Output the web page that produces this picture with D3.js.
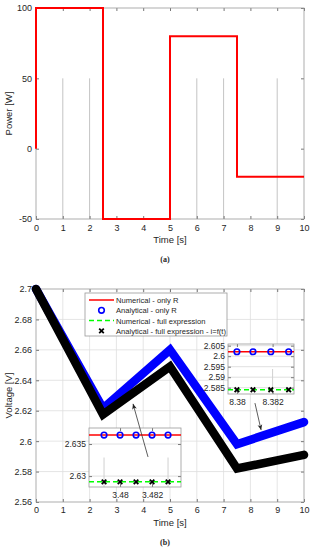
<!DOCTYPE html>
<html>
<head>
<meta charset="utf-8">
<script src="https://cdn.jsdelivr.net/npm/d3@7"></script>
<style>
  body { margin: 0; background: #fff; }
  text { font-family: "Liberation Sans", Arial, sans-serif; fill: #262626; }
  .cap { font-family: "Liberation Serif", "DejaVu Serif", serif; font-weight: bold; }
</style>
</head>
<body>
<script>
// ---- data (a) power profile ----
const stepTimes = [0, 2.5, 5, 7.5, 10];
const powerLevels = [100, -50, 80, -20];
const powerStems = [1, 2, 6, 7, 9];
const timeTicks = [0, 1, 2, 3, 4, 5, 6, 7, 8, 9, 10];
const powerTicks = [-50, 0, 50, 100];

// ---- data (b) voltage ----
const voltTimes = [0, 2.5, 5, 7.5, 10];
const voltOnlyR = [2.700, 2.6215, 2.660, 2.598, 2.6125];
const voltFull = [2.700, 2.6175, 2.649, 2.582, 2.591];
const voltTicks = [2.56, 2.58, 2.6, 2.62, 2.64, 2.66, 2.68, 2.7];
const legendLabels = [
  "Numerical - only R",
  "Analytical - only R",
  "Numerical - full expression",
  "Analytical - full expression - i=f(t)"
];

// zoom insets
const zoomATimes = [3.479, 3.480, 3.481, 3.482, 3.483];
const zoomAOnlyR = 2.6364;
const zoomAFull = 2.6291;
const zoomAXTicks = [3.48, 3.482];
const zoomAYTicks = [2.63, 2.635];

const zoomBTimes = [8.3800, 8.3809, 8.3819, 8.3829];
const zoomBOnlyR = 2.6021;
const zoomBFull = 2.5840;
const zoomBXTicks = [8.38, 8.382];
const zoomBYTicks = [2.585, 2.59, 2.595, 2.6, 2.605];

const W = 315, H = 550;
const svg = d3.select("body").append("svg")
  .attr("width", W).attr("height", H);

const fmt = d => String(+d.toFixed(3));
const frameColor = "#9a9a9a";

function axes(g, x, y, xt, yt, xPad, yPad, fs) {
  g.append("g")
    .attr("transform", "translate(0," + y.range()[0] + ")")
    .call(d3.axisBottom(x).tickValues(xt).tickFormat(fmt).tickSizeInner(-3).tickSizeOuter(0).tickPadding(xPad))
    .call(a => a.select(".domain").remove());
  g.append("g")
    .attr("transform", "translate(0," + y.range()[1] + ")")
    .call(d3.axisTop(x).tickValues(xt).tickFormat("").tickSizeInner(-3).tickSizeOuter(0))
    .call(a => a.select(".domain").remove());
  g.append("g")
    .attr("transform", "translate(" + x.range()[0] + ",0)")
    .call(d3.axisLeft(y).tickValues(yt).tickFormat(fmt).tickSizeInner(-3).tickSizeOuter(0).tickPadding(yPad))
    .call(a => a.select(".domain").remove());
  g.append("g")
    .attr("transform", "translate(" + x.range()[1] + ",0)")
    .call(d3.axisRight(y).tickValues(yt).tickFormat("").tickSizeInner(-3).tickSizeOuter(0))
    .call(a => a.select(".domain").remove());
  g.selectAll(".tick line").attr("stroke", "#777");
  g.selectAll(".tick text").attr("font-size", fs).attr("fill", "#262626")
    .attr("font-family", "Liberation Sans, Arial, sans-serif");
  g.append("rect")
    .attr("x", x.range()[0]).attr("y", y.range()[1])
    .attr("width", x.range()[1] - x.range()[0])
    .attr("height", y.range()[0] - y.range()[1])
    .attr("fill", "none").attr("stroke", frameColor).attr("stroke-width", 0.8);
}

// ================= (a) =================
const xa = d3.scaleLinear().domain([0, 10]).range([36, 304]);
const ya = d3.scaleLinear().domain([-50, 100]).range([219, 8]);
const ga = svg.append("g");

ga.selectAll("line.stem").data(powerStems).join("line")
  .attr("x1", d => xa(d)).attr("x2", d => xa(d))
  .attr("y1", ya(-50)).attr("y2", ya(50))
  .attr("stroke", "#c4c4c4").attr("stroke-width", 1);

axes(ga, xa, ya, timeTicks, powerTicks, 6, 4, 9);

const powerPts = [[stepTimes[0], 0]];
powerLevels.forEach((p, i) => {
  powerPts.push([stepTimes[i], p]);
  powerPts.push([stepTimes[i + 1], p]);
});
ga.append("path")
  .attr("d", d3.line().x(d => xa(d[0])).y(d => ya(d[1]))(powerPts))
  .attr("fill", "none").attr("stroke", "#ff0000").attr("stroke-width", 2);

ga.append("text").attr("x", 170).attr("y", 243).attr("text-anchor", "middle")
  .attr("font-size", 9.5).text("Time [s]");
ga.append("text").attr("transform", "translate(12," + ya(25) + ") rotate(-90)")
  .attr("text-anchor", "middle").attr("font-size", 9.5).text("Power [W]");
ga.append("text").attr("class", "cap").attr("x", 165).attr("y", 262)
  .attr("text-anchor", "middle").attr("font-size", 8).text("(a)");

// ================= (b) =================
const xb = d3.scaleLinear().domain([0, 10]).range([36, 304]);
const yb = d3.scaleLinear().domain([2.56, 2.70]).range([502, 289]);
const gb = svg.append("g");

// grid
gb.selectAll("line.gx").data(timeTicks.slice(1, -1)).join("line")
  .attr("x1", d => xb(d)).attr("x2", d => xb(d))
  .attr("y1", yb.range()[0]).attr("y2", yb.range()[1])
  .attr("stroke", "#dedede").attr("stroke-width", 0.8);
gb.selectAll("line.gy").data(voltTicks.slice(1, -1)).join("line")
  .attr("y1", d => yb(d)).attr("y2", d => yb(d))
  .attr("x1", xb.range()[0]).attr("x2", xb.range()[1])
  .attr("stroke", "#dedede").attr("stroke-width", 0.8);

axes(gb, xb, yb, timeTicks, voltTicks, 5, 4, 9);

const vline = d3.line().x((d, i) => xb(voltTimes[i])).y(d => yb(d));
gb.append("path").attr("d", vline(voltOnlyR))
  .attr("fill", "none").attr("stroke", "#0000ff").attr("stroke-width", 8.5)
  .attr("stroke-linejoin", "miter").attr("stroke-linecap", "round");
gb.append("path").attr("d", vline(voltFull))
  .attr("fill", "none").attr("stroke", "#000").attr("stroke-width", 8.5)
  .attr("stroke-linejoin", "miter").attr("stroke-linecap", "round");

gb.append("text").attr("x", 170).attr("y", 526).attr("text-anchor", "middle")
  .attr("font-size", 9.5).text("Time [s]");
gb.append("text").attr("transform", "translate(12," + yb(2.63) + ") rotate(-90)")
  .attr("text-anchor", "middle").attr("font-size", 9.5).text("Voltage [V]");
gb.append("text").attr("class", "cap").attr("x", 165).attr("y", 545)
  .attr("text-anchor", "middle").attr("font-size", 8).text("(b)");

// markers
function circleMark(g, cx, cy) {
  g.append("circle").attr("cx", cx).attr("cy", cy).attr("r", 2.8)
    .attr("fill", "none").attr("stroke", "#0000ff").attr("stroke-width", 1.6);
}
function crossMark(g, cx, cy) {
  const s = 2.3;
  g.append("path")
    .attr("d", `M${cx - s},${cy - s}L${cx + s},${cy + s}M${cx - s},${cy + s}L${cx + s},${cy - s}`)
    .attr("stroke", "#000").attr("stroke-width", 1.8);
}

// legend
const lg = gb.append("g");
lg.append("rect").attr("x", 85).attr("y", 293).attr("width", 142).attr("height", 43)
  .attr("fill", "#fff").attr("stroke", frameColor).attr("stroke-width", 0.8);
legendLabels.forEach((lab, i) => {
  const ly = 300 + i * 10.3;
  if (i === 0) lg.append("line").attr("x1", 89).attr("x2", 114).attr("y1", ly).attr("y2", ly)
    .attr("stroke", "#ff0000").attr("stroke-width", 1.5);
  if (i === 1) circleMark(lg, 101.5, ly);
  if (i === 2) lg.append("line").attr("x1", 89).attr("x2", 114).attr("y1", ly).attr("y2", ly)
    .attr("stroke", "#00ff00").attr("stroke-width", 1.5).attr("stroke-dasharray", "5,3");
  if (i === 3) crossMark(lg, 101.5, ly);
  lg.append("text").attr("x", 116).attr("y", ly + 3).attr("font-size", 7.6).text(lab);
});

// insets
function inset(xr, yr, xd, yd, xt, yt, times, onlyR, full, vgrid) {
  const x = d3.scaleLinear().domain(xd).range(xr);
  const y = d3.scaleLinear().domain(yd).range(yr);
  const g = gb.append("g");
  g.append("rect").attr("x", xr[0]).attr("y", yr[1]).attr("width", xr[1] - xr[0])
    .attr("height", yr[0] - yr[1]).attr("fill", "#fff");
  g.selectAll("line.ig").data(yt).join("line")
    .attr("x1", xr[0]).attr("x2", xr[1]).attr("y1", d => y(d)).attr("y2", d => y(d))
    .attr("stroke", "#d8d8d8").attr("stroke-width", 0.8);
  g.selectAll("line.iv").data(vgrid).join("line")
    .attr("x1", d => x(d)).attr("x2", d => x(d))
    .attr("y1", y((yd[0] + yd[1]) / 2)).attr("y2", yr[0])
    .attr("stroke", "#d0d0d0").attr("stroke-width", 1);
  axes(g, x, y, xt, yt, 5, 3, 8.5);
  g.append("line").attr("x1", xr[0]).attr("x2", xr[1]).attr("y1", y(onlyR)).attr("y2", y(onlyR))
    .attr("stroke", "#ff0000").attr("stroke-width", 1.5);
  g.append("line").attr("x1", xr[0]).attr("x2", xr[1]).attr("y1", y(full)).attr("y2", y(full))
    .attr("stroke", "#00ff00").attr("stroke-width", 1.5).attr("stroke-dasharray", "5,3");
  times.forEach(t => { circleMark(g, x(t), y(onlyR)); crossMark(g, x(t), y(full)); });
}
inset([89, 181], [487, 428], [3.47806, 3.48381], [2.6283, 2.6375],
  zoomAXTicks, zoomAYTicks, zoomATimes, zoomAOnlyR, zoomAFull, [zoomATimes[0], zoomATimes[4]]);
inset([228, 294], [394, 344], [8.3795, 8.3832], [2.5820, 2.6058],
  zoomBXTicks, zoomBYTicks, zoomBTimes, zoomBOnlyR, zoomBFull, [zoomBXTicks[1]]);

// arrows
const arrows = [
  { from: [4.18, 2.5896], to: [3.62, 2.6245] },
  { from: [8.17, 2.6250], to: [8.40, 2.6073] }
];
arrows.forEach(a => {
  const x1 = xb(a.from[0]), y1 = yb(a.from[1]), x2 = xb(a.to[0]), y2 = yb(a.to[1]);
  const ang = Math.atan2(y2 - y1, x2 - x1), L = 6, sp = 0.4;
  gb.append("line").attr("x1", x1).attr("y1", y1).attr("x2", x2).attr("y2", y2)
    .attr("stroke", "#333").attr("stroke-width", 0.8);
  gb.append("path")
    .attr("d", `M${x2},${y2}L${x2 - L * Math.cos(ang - sp)},${y2 - L * Math.sin(ang - sp)}` +
      `L${x2 - 4 * Math.cos(ang)},${y2 - 4 * Math.sin(ang)}` +
      `L${x2 - L * Math.cos(ang + sp)},${y2 - L * Math.sin(ang + sp)}Z`)
    .attr("fill", "#222");
});
</script>
</body>
</html>
